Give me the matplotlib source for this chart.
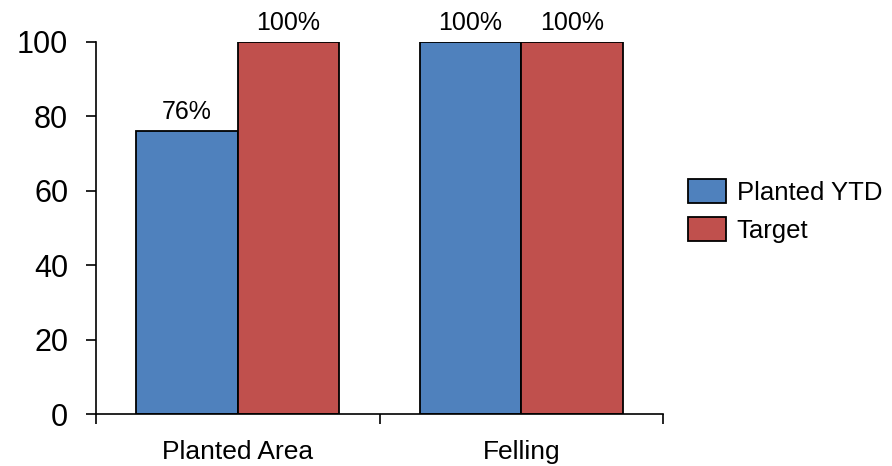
import numpy as np
import matplotlib
matplotlib.use("Agg")
import matplotlib.pyplot as plt

plt.rcParams['font.family'] = ['Liberation Sans', 'DejaVu Sans']

# data
categories = ["Planted Area", "Felling"]
planted_ytd = [76, 100]
target = [100, 100]
series_names = ["Planted YTD", "Target"]
blue = "#4F81BD"
red = "#C0504D"

fig = plt.figure(figsize=(8.92, 4.66), dpi=100)
ax = fig.add_axes([96/892, 1 - 414/466, (663 - 96)/892, (414 - 42)/466])

x = np.arange(len(categories))
w = 0.358
b1 = ax.bar(x - w/2, planted_ytd, w, color=blue, edgecolor="black", linewidth=1.3, label=series_names[0])
b2 = ax.bar(x + w/2, target, w, color=red, edgecolor="black", linewidth=1.3, label=series_names[1])

for bars in (b1, b2):
    for r in bars:
        ax.annotate(f"{r.get_height():.0f}%", (r.get_x() + r.get_width()/2, r.get_height()),
                    xytext=(0, 5), textcoords="offset points", ha="center", va="bottom",
                    fontsize=18)

ax.set_xlim(-0.5, 1.5)
ax.set_ylim(0, 100)
ax.set_yticks([0, 20, 40, 60, 80, 100])
ax.tick_params(axis="y", labelsize=22, length=7, width=1.2, pad=13, direction="out")

ax.set_xticks(x)
ax.set_xticklabels(categories, fontsize=19)
ax.tick_params(axis="x", which="major", length=0, pad=19)
ax.set_xticks([-0.5, 0.5, 1.5], minor=True)
ax.tick_params(axis="x", which="minor", length=7, width=1.2, direction="out")

for s in ("top", "right"):
    ax.spines[s].set_visible(False)
for s in ("left", "bottom"):
    ax.spines[s].set_linewidth(1.2)

fig.legend(loc="center left", bbox_to_anchor=(688/892, 1 - 211/466), frameon=False,
           fontsize=18.5, handlelength=1.48, handleheight=1.05, handletextpad=0.42,
           labelspacing=0.5, borderpad=0, borderaxespad=0)

fig.savefig("out.png", dpi=100)
